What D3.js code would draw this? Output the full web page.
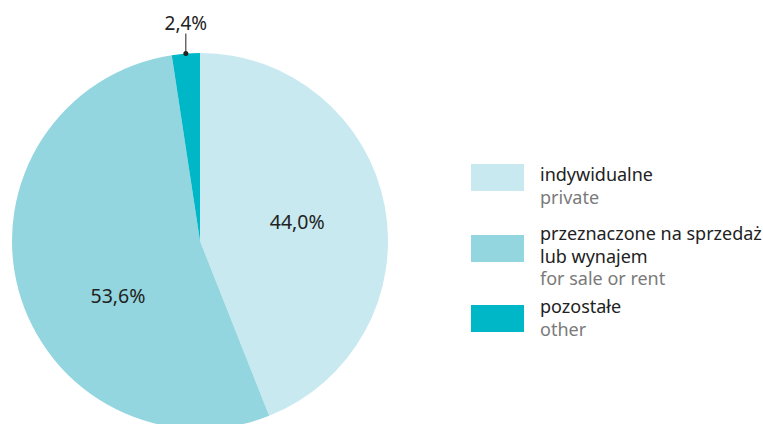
<!DOCTYPE html>
<html>
<head>
<meta charset="utf-8">
<script src="https://cdn.jsdelivr.net/npm/d3@7"></script>
<style>
  body { margin: 0; background: #fff; }
  svg text { font-family: "Noto Sans", "Open Sans", sans-serif; }
</style>
</head>
<body>
<div id="chart"></div>
<script>
// data
var categories = ["indywidualne", "przeznaczone na sprzedaż lub wynajem", "pozostałe"];
var labelsPl = [["indywidualne"], ["przeznaczone na sprzedaż", "lub wynajem"], ["pozostałe"]];
var labelsEn = ["private", "for sale or rent", "other"];
var values = [44.0, 53.6, 2.4];
var colors = ["#c8e9f0", "#94d6df", "#00b7c8"];

var svgWidth = 763;
var svgHeight = 424;

var svg = d3.select("#chart")
  .append("svg")
  .attr("width", svgWidth)
  .attr("height", svgHeight);

var cx = 200, cy = 241, radius = 188;

var data = values.map(function(v, i) {
  return { name: categories[i], value: v, color: colors[i], pl: labelsPl[i], en: labelsEn[i] };
});

var pie = d3.pie()
  .sort(null)
  .value(d => d.value);

var arc = d3.arc()
  .innerRadius(0)
  .outerRadius(radius);

var pieGroup = svg.append("g")
  .attr("transform", `translate(${cx}, ${cy})`);

var arcs = pie(data);

pieGroup.selectAll("path")
  .data(arcs)
  .enter()
  .append("path")
  .attr("d", arc)
  .attr("fill", d => d.data.color);

var fmt = v => v.toFixed(1).replace(".", ",") + "%";

// inside labels for the two big slices (second one sits a bit off the mid angle)
var labelR = 99;
var angleNudge = [0, -0.33, 0];
pieGroup.selectAll("text.inner")
  .data(arcs.filter(d => d.data.value > 10))
  .enter()
  .append("text")
  .attr("class", "inner")
  .attr("transform", function(d) {
    var a = (d.startAngle + d.endAngle) / 2 + angleNudge[d.index];
    return `translate(${Math.sin(a) * labelR}, ${-Math.cos(a) * labelR})`;
  })
  .attr("text-anchor", "middle")
  .attr("dy", "0.35em")
  .style("font-size", "19.5px")
  .style("fill", "#222")
  .text(d => fmt(d.data.value));

// outside label with leader for the small slice
var small = arcs.filter(d => d.data.value <= 10);
small.forEach(function(d) {
  var a = (d.startAngle + d.endAngle) / 2;
  var px = Math.sin(a) * radius;
  var py = -Math.cos(a) * radius;
  pieGroup.append("line")
    .attr("x1", px).attr("y1", py)
    .attr("x2", px).attr("y2", py - 20)
    .attr("stroke", "#222")
    .attr("stroke-width", 1);
  pieGroup.append("circle")
    .attr("cx", px).attr("cy", py)
    .attr("r", 2.5)
    .attr("fill", "#222");
  pieGroup.append("text")
    .attr("x", px)
    .attr("y", py - 24)
    .attr("text-anchor", "middle")
    .style("font-size", "19px")
    .style("fill", "#222")
    .text(fmt(d.data.value));
});

// legend
var legendTops = [164, 235, 305];
var legendBase = [181, 240, 313];
var legend = svg.append("g");

data.forEach(function(d, i) {
  var top = legendTops[i];
  legend.append("rect")
    .attr("x", 471)
    .attr("y", top)
    .attr("width", 53)
    .attr("height", 27)
    .attr("fill", d.color);

  var t = legend.append("text")
    .style("font-size", "18px");
  d.pl.forEach(function(line, j) {
    t.append("tspan")
      .attr("x", 540)
      .attr("y", legendBase[i] + j * 22.5)
      .style("fill", "#222")
      .text(line);
  });
  t.append("tspan")
    .attr("x", 540)
    .attr("y", legendBase[i] + d.pl.length * 22.5)
    .style("fill", "#7a7a7a")
    .text(d.en);
});
</script>
</body>
</html>
